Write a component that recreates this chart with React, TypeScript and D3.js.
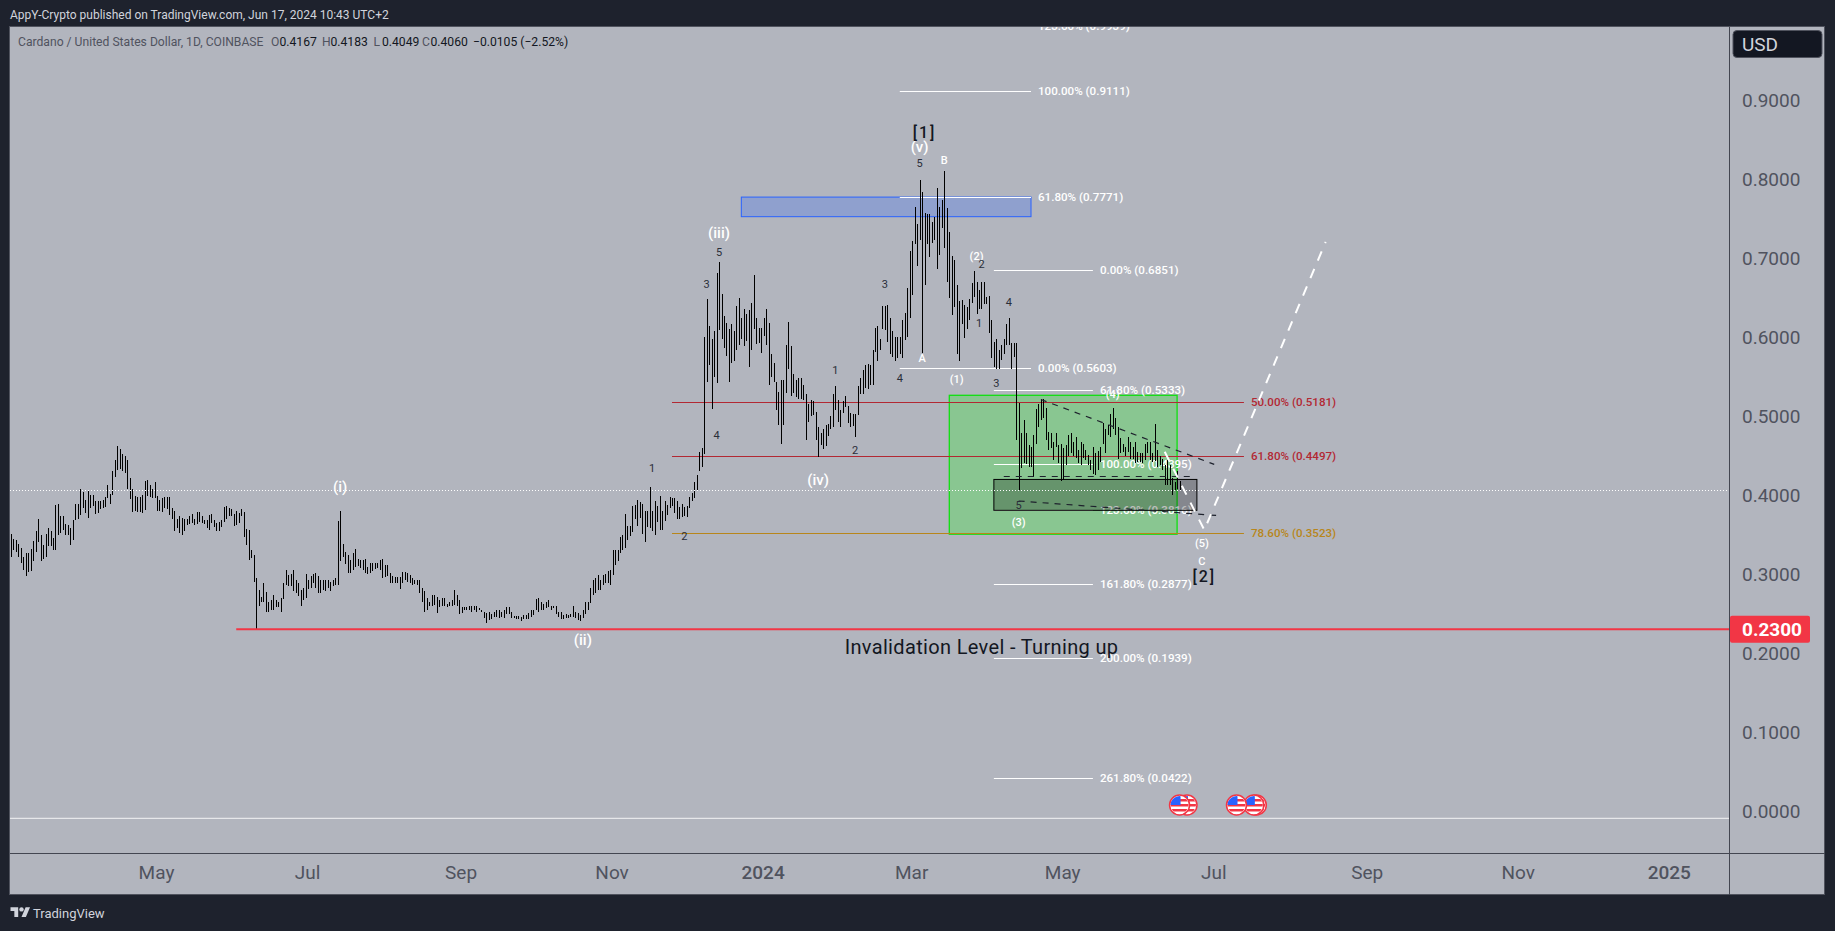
import React, { useEffect, useRef } from "react";
import * as d3 from "d3";

// one bar per day, starting at firstBar, rows of ten
const firstBar = "2023-03-03";

const barHighs = [
  .351,.344,.343,.338,.333,.322,.326,.327,.332,.342,
  .354,.370,.349,.337,.351,.358,.354,.345,.387,.389,
  .373,.373,.363,.362,.358,.368,.389,.389,.408,.404,
  .394,.406,.400,.400,.392,.392,.392,.394,.397,.413,
  .401,.430,.444,.462,.458,.452,.449,.444,.421,.407,
  .399,.397,.397,.400,.418,.419,.413,.408,.416,.399,
  .394,.396,.397,.397,.397,.383,.380,.369,.373,.371,
  .370,.370,.373,.376,.370,.379,.379,.373,.368,.368,
  .375,.376,.368,.365,.366,.368,.385,.386,.384,.382,
  .376,.380,.377,.382,.379,.357,.356,.330,.324,.295,
  .280,.271,.289,.277,.265,.267,.273,.267,.265,.270,
  .288,.305,.299,.300,.305,.293,.288,.280,.282,.300,
  .293,.297,.300,.301,.297,.293,.292,.293,.292,.290,
  .293,.295,.367,.380,.338,.328,.324,.318,.326,.332,
  .319,.318,.318,.319,.309,.314,.314,.314,.314,.318,
  .319,.311,.311,.301,.297,.296,.296,.296,.302,.302,
  .301,.299,.295,.293,.292,.292,.282,.279,.269,.265,
  .273,.273,.271,.267,.270,.270,.262,.265,.267,.280,
  .273,.267,.258,.258,.258,.259,.259,.259,.259,.257,
  .255,.252,.251,.252,.249,.252,.255,.254,.252,.255,
  .258,.258,.252,.247,.247,.247,.246,.248,.248,.251,
  .254,.255,.268,.269,.264,.262,.265,.267,.259,.259,
  .259,.252,.252,.248,.249,.248,.250,.259,.252,.251,
  .248,.254,.264,.265,.282,.293,.295,.299,.292,.299,
  .300,.304,.305,.330,.330,.330,.347,.350,.376,.361,
  .361,.386,.387,.394,.391,.389,.380,.380,.410,.380,
  .392,.386,.399,.380,.392,.387,.397,.396,.396,.392,
  .385,.389,.385,.386,.397,.402,.416,.425,.455,.459,
  .600,.648,.614,.598,.607,.681,.695,.654,.626,.618,
  .610,.616,.607,.639,.650,.624,.635,.629,.634,.643,
  .678,.624,.612,.611,.624,.636,.618,.579,.567,.543,
  .531,.545,.545,.590,.619,.588,.553,.545,.548,.548,
  .539,.528,.515,.520,.519,.505,.486,.479,.483,.489,
  .490,.500,.528,.538,.520,.508,.519,.525,.513,.504,
  .503,.502,.538,.548,.558,.565,.566,.565,.583,.612,
  .614,.598,.639,.639,.640,.624,.607,.600,.600,.600,
  .622,.630,.662,.709,.722,.764,.743,.799,.784,.757,
  .756,.756,.746,.752,.788,.764,.773,.810,.763,.733,
  .702,.698,.666,.645,.647,.640,.638,.648,.668,.684,
  .670,.659,.669,.669,.651,.652,.621,.594,.597,.584,
  .590,.597,.616,.624,.593,.593,.592,.516,.478,.495,
  .478,.463,.461,.476,.509,.515,.522,.522,.510,.480,
  .478,.467,.478,.463,.464,.459,.463,.476,.478,.467,
  .474,.457,.467,.464,.457,.451,.444,.461,.453,.456,
  .461,.491,.484,.489,.503,.510,.497,.486,.472,.464,
  .461,.474,.467,.461,.467,.455,.453,.453,.465,.467,
  .467,.453,.490,.457,.449,.446,.438,.444,.438,.421,
  .417,.430,.4183,
];

const barLows = [
  .322,.330,.328,.321,.314,.305,.298,.303,.304,.316,
  .328,.340,.317,.319,.321,.335,.335,.331,.330,.349,
  .352,.356,.349,.349,.337,.343,.368,.370,.375,.383,
  .377,.371,.384,.386,.376,.377,.382,.383,.385,.396,
  .389,.400,.423,.432,.433,.430,.428,.408,.395,.379,
  .380,.379,.379,.377,.381,.399,.398,.396,.396,.380,
  .380,.379,.383,.382,.375,.370,.354,.358,.352,.349,
  .354,.362,.363,.364,.362,.363,.366,.364,.363,.358,
  .356,.364,.359,.354,.354,.360,.366,.370,.373,.373,
  .361,.362,.364,.373,.347,.337,.318,.320,.290,.230,
  .259,.265,.265,.252,.252,.254,.254,.258,.258,.252,
  .268,.286,.285,.285,.278,.276,.272,.259,.267,.269,
  .281,.282,.288,.282,.276,.276,.280,.279,.282,.279,
  .285,.286,.286,.316,.321,.313,.301,.301,.305,.309,
  .310,.307,.305,.301,.300,.301,.304,.306,.308,.305,
  .295,.296,.297,.289,.289,.288,.288,.281,.289,.292,
  .290,.288,.286,.287,.286,.276,.265,.252,.254,.259,
  .259,.261,.251,.258,.259,.259,.258,.259,.259,.261,
  .259,.250,.251,.254,.254,.254,.252,.254,.252,.254,
  .252,.244,.238,.242,.243,.245,.246,.244,.246,.244,
  .250,.250,.244,.244,.243,.243,.241,.243,.243,.243,
  .246,.248,.254,.252,.255,.254,.257,.258,.254,.257,
  .249,.246,.243,.243,.244,.244,.245,.246,.244,.242,
  .241,.244,.249,.254,.263,.273,.276,.280,.280,.286,
  .288,.288,.286,.299,.311,.316,.326,.330,.333,.343,
  .348,.353,.369,.361,.371,.351,.341,.359,.358,.354,
  .350,.366,.356,.356,.367,.375,.383,.386,.377,.370,
  .370,.372,.373,.372,.383,.393,.396,.406,.431,.436,
  .452,.543,.565,.509,.550,.542,.609,.598,.586,.576,
  .543,.567,.569,.584,.590,.597,.588,.595,.562,.584,
  .610,.591,.592,.580,.601,.590,.539,.550,.543,.507,
  .489,.465,.489,.529,.560,.525,.529,.524,.521,.522,
  .520,.470,.493,.500,.501,.470,.448,.463,.458,.462,
  .475,.483,.486,.508,.493,.486,.504,.512,.491,.486,
  .487,.474,.501,.528,.528,.535,.534,.539,.539,.581,
  .569,.583,.610,.609,.594,.579,.575,.569,.573,.579,
  .573,.596,.600,.624,.653,.718,.690,.723,.580,.666,
  .718,.701,.719,.723,.686,.704,.738,.713,.670,.650,
  .628,.638,.579,.569,.617,.599,.610,.621,.643,.651,
  .629,.635,.636,.642,.642,.605,.573,.562,.560,.560,
  .571,.579,.590,.590,.559,.575,.470,.406,.434,.440,
  .439,.435,.436,.423,.465,.486,.495,.497,.470,.457,
  .459,.444,.461,.440,.418,.419,.438,.449,.453,.449,
  .447,.440,.438,.447,.444,.438,.432,.426,.425,.432,
  .442,.464,.453,.476,.474,.484,.476,.446,.453,.455,
  .449,.455,.446,.446,.440,.442,.442,.440,.444,.453,
  .444,.442,.443,.436,.438,.432,.413,.413,.413,.400,
  .406,.408,.4049,
];

const priceTicks = [0, .1, .2, .3, .4, .5, .6, .7, .8, .9];
const timeTicks = ["2023-05-01", "2023-07-01", "2023-09-01", "2023-11-01", "2024-01-01", "2024-03-01", "2024-05-01", "2024-07-01", "2024-09-01", "2024-11-01", "2025-01-01"];
const timeLabels = ["May", "Jul", "Sep", "Nov", "2024", "Mar", "May", "Jul", "Sep", "Nov", "2025"];

const lastPrice = 0.406;
const invalidation = 0.23;
const invalidationStart = "2023-06-02";
const zeroLine = -0.0093;

// fib tools
const upperPct = ["123.60%", "100.00%", "61.80%", "0.00%"];
const upperPrice = [.9939, .9111, .7771, .5603];
const upperSpan = ["2024-02-25", "2024-04-18"];
const lowerPct = ["0.00%", "61.80%", "100.00%", "123.60%", "161.80%", "200.00%", "261.80%"];
const lowerPrice = [.6851, .5333, .4395, .3816, .2877, .1939, .0422];
const lowerSpan = ["2024-04-03", "2024-05-13"];
const retracePct = ["50.00%", "61.80%", "78.60%"];
const retracePrice = [.5181, .4497, .3523];
const retraceColor = ["#b22833", "#b22833", "#b8861b"];
const retraceSpan = ["2023-11-25", "2024-07-13"];

// rectangles: date from, date to, price top, price bottom
const blueBox = ["2023-12-23", "2024-04-18", .7771, .7523];
const greenBox = ["2024-03-16", "2024-06-16", .5262, .3504];
const greyBox = ["2024-04-03", "2024-06-24", .4197, .3806];

const dashedBlack = [
  [["2024-04-22", .5209], ["2024-07-01", .4388]],
  [["2024-04-13", .3924], ["2024-07-03", .3738]],
  [["2024-04-07", .4234], ["2024-06-23", .4234]],
];
const projection = [["2024-06-11", .4547], ["2024-06-27", .3557], ["2024-08-15", .7203]];

// wave labels: date, price, text
const whiteLabels = [
  ["2023-07-14", .410, "(i)"], ["2023-10-20", .2165, "(ii)"], ["2023-12-14", .7316, "(iii)"],
  ["2024-01-23", .419, "(iv)"], ["2024-03-04", .840, "(v)"],
];
const whiteSmall = [
  ["2024-03-14", .8228, "B"], ["2024-03-05", .573, "A"], ["2024-03-27", .7016, "(2)"],
  ["2024-03-19", .5465, "(1)"], ["2024-05-21", .5278, "(4)"], ["2024-04-13", .3646, "(3)"],
  ["2024-06-26", .3389, "(5)"], ["2024-06-26", .3152, "C"],
];
const darkSmall = [
  ["2024-03-04", .8196, "5"], ["2024-02-19", .667, "3"], ["2024-03-29", .6924, "2"],
  ["2024-04-09", .6443, "4"], ["2024-03-28", .6173, "1"], ["2024-02-25", .5477, "4"],
  ["2024-04-04", .5414, "3"], ["2024-01-30", .557, "1"], ["2023-12-14", .7067, "5"],
  ["2023-12-09", .667, "3"], ["2023-12-13", .4756, "4"], ["2024-02-07", .4557, "2"],
  ["2023-11-17", .4338, "1"], ["2023-11-30", .3481, "2"], ["2024-04-13", .3865, "5"],
];
const degreeLabels = [["2024-03-06", .859, "[1]"], ["2024-06-27", .2966, "[2]"]];
const noteLabel = ["2024-03-29", .2076, "Invalidation Level - Turning up"];

const eventDates = ["2024-07-18", "2024-07-17", "2024-07-10", "2024-06-20", "2024-06-17"];
const eventPrice = 0.0076;

const legendName = "Cardano / United States Dollar, 1D, COINBASE";
const legendKeys = ["O", "H", "L", "C"];
const legendValues = ["0.4167", "0.4183", "0.4049", "0.4060"];
const legendChange = "−0.0105 (−2.52%)";
const publishLine = "AppY-Crypto published on TradingView.com, Jun 17, 2024 10:43 UTC+2";

const W = 1835, H = 931;
const plot = { left: 10, right: 1729, top: 27, bottom: 853, edge: 1825, foot: 895 };
const font = "Roboto, sans-serif";
const day = d3.utcParse("%Y-%m-%d");
const fmt4 = d3.format(".4f");

export default function App() {
  const ref = useRef<SVGSVGElement>(null);

  useEffect(() => {
    const svg = d3.select(ref.current);
    svg.selectAll("*").remove();
    svg.attr("font-family", font);

    const x = d3.scaleUtc().domain([day("2023-05-01"), day("2025-01-01")]).range([157, 1669.8]);
    const y = d3.scaleLinear().domain([0, 0.9]).range([811, 100]);

    const defs = svg.append("defs");
    defs.append("clipPath").attr("id", "plotClip").append("rect")
      .attr("x", plot.left).attr("y", plot.top)
      .attr("width", plot.right - plot.left).attr("height", plot.bottom - plot.top);
    defs.append("clipPath").attr("id", "flagClip").append("circle").attr("r", 9);

    // page and panes
    svg.append("rect").attr("width", W).attr("height", H).attr("fill", "#1e222d");
    svg.append("rect").attr("x", plot.left - .5).attr("y", plot.top - .5)
      .attr("width", plot.edge - plot.left).attr("height", plot.foot - plot.top)
      .attr("fill", "#b2b5be").attr("stroke", "#50535e");
    svg.append("line").attr("x1", plot.right + .5).attr("x2", plot.right + .5).attr("y1", plot.top).attr("y2", plot.foot).attr("stroke", "#434651");
    svg.append("line").attr("x1", plot.left).attr("x2", plot.edge).attr("y1", plot.bottom + .5).attr("y2", plot.bottom + .5).attr("stroke", "#434651");

    svg.append("text").attr("x", 10).attr("y", 15).attr("dominant-baseline", "central")
      .attr("font-size", 12).attr("fill", "#d1d4dc").text(publishLine);

    // axes
    const yAxis = svg.append("g").attr("transform", `translate(${plot.right},0)`)
      .call(d3.axisRight(y).tickValues(priceTicks).tickFormat(fmt4).tickSize(0).tickPadding(13));
    const xAxis = svg.append("g").attr("transform", `translate(0,${plot.bottom})`)
      .call(d3.axisBottom(x).tickValues(timeTicks.map(day))
        .tickFormat((d, i) => timeLabels[i]).tickSize(0));
    yAxis.select(".domain").remove();
    xAxis.select(".domain").remove();
    yAxis.selectAll("text").attr("font-size", 19).attr("font-family", font).attr("fill", "#50535e").attr("dy", null).attr("dominant-baseline", "central");
    xAxis.selectAll("text").attr("font-size", 19).attr("font-family", font).attr("fill", "#50535e").attr("dy", null).attr("x", -1).attr("y", 19).attr("dominant-baseline", "central")
      .attr("font-weight", (d, i) => (timeLabels[i].length === 4 ? 500 : 400));

    const chart = svg.append("g").attr("clip-path", "url(#plotClip)");

    const box = (b: any[], fill: string, stroke: string, sw: number) =>
      chart.append("rect")
        .attr("x", x(day(b[0]))).attr("width", x(day(b[1])) - x(day(b[0])))
        .attr("y", y(b[2])).attr("height", y(b[3]) - y(b[2]))
        .attr("fill", fill).attr("stroke", stroke).attr("stroke-width", sw);

    box(blueBox, "rgba(41,98,255,0.25)", "#2962ff", 1);
    box(greenBox, "rgba(76,226,77,0.4)", "#10e010", 1.3);

    // fib levels
    const fibs = (pct: string[], price: number[], span: string[], color: (i: number) => string) => {
      price.forEach((p, i) => {
        chart.append("line")
          .attr("x1", x(day(span[0]))).attr("x2", x(day(span[1])))
          .attr("y1", Math.round(y(p)) + .5).attr("y2", Math.round(y(p)) + .5)
          .attr("stroke", color(i)).attr("stroke-width", 1.2);
        chart.append("text")
          .attr("x", x(day(span[1])) + 7).attr("y", y(p))
          .attr("dominant-baseline", "central").attr("font-size", 11.6).attr("font-weight", 500)
          .attr("fill", color(i)).text(`${pct[i]} (${fmt4(p)})`);
      });
    };
    fibs(upperPct, upperPrice, upperSpan, () => "#ffffff");
    fibs(lowerPct, lowerPrice, lowerSpan, () => "#ffffff");
    fibs(retracePct, retracePrice, retraceSpan, (i) => retraceColor[i]);

    // daily high-low bars
    const start = day(firstBar);
    chart.append("g").attr("stroke", "#000").attr("stroke-width", 1).attr("shape-rendering", "crispEdges")
      .selectAll("line").data(barHighs).join("line")
      .attr("x1", (d, i) => Math.round(x(d3.utcDay.offset(start, i))) + .5)
      .attr("x2", (d, i) => Math.round(x(d3.utcDay.offset(start, i))) + .5)
      .attr("y1", (d) => y(d))
      .attr("y2", (d, i) => y(barLows[i]));

    box(greyBox, "rgba(0,0,0,0.25)", "#000", 1);

    const pts = d3.line<any>().x((d) => x(day(d[0]))).y((d) => y(d[1]));
    dashedBlack.forEach((l) => {
      chart.append("path").attr("d", pts(l)).attr("fill", "none")
        .attr("stroke", "#1e222d").attr("stroke-width", 1.2).attr("stroke-dasharray", "6 6");
    });
    chart.append("path").attr("d", pts(projection)).attr("fill", "none")
      .attr("stroke", "#fff").attr("stroke-width", 2).attr("stroke-dasharray", "10 9");

    // last price, zero and invalidation lines
    chart.append("line").attr("x1", plot.left).attr("x2", plot.right)
      .attr("y1", Math.round(y(lastPrice)) + .5).attr("y2", Math.round(y(lastPrice)) + .5)
      .attr("stroke", "#fff").attr("stroke-dasharray", "1 2");
    chart.append("line").attr("x1", plot.left).attr("x2", plot.right)
      .attr("y1", y(zeroLine)).attr("y2", y(zeroLine))
      .attr("stroke", "#e6e7ea").attr("stroke-width", 1.2);
    chart.append("line").attr("x1", x(day(invalidationStart))).attr("x2", plot.right)
      .attr("y1", y(invalidation)).attr("y2", y(invalidation))
      .attr("stroke", "#f23645").attr("stroke-width", 2);

    // wave labels
    const labels = (rows: any[], size: number, fill: string, weight = 400, spacing = 0) =>
      chart.append("g").selectAll("text").data(rows).join("text")
        .attr("x", (d) => x(day(d[0]))).attr("y", (d) => y(d[1]))
        .attr("text-anchor", "middle").attr("dominant-baseline", "central")
        .attr("font-size", size).attr("font-weight", weight).attr("fill", fill)
        .attr("letter-spacing", spacing)
        .text((d) => d[2]);
    labels(whiteLabels, 15, "#ffffff", 500);
    labels(whiteSmall, 11, "#ffffff", 500);
    labels(darkSmall, 11, "#2a2e39");
    labels(degreeLabels, 16, "#131722", 500, 2);
    labels([noteLabel], 20, "#131722", 400, 0.34);

    // economic events
    const flag = chart.append("g").selectAll("g").data(eventDates).join("g")
      .attr("transform", (d) => `translate(${x(day(d))},${y(eventPrice)})`);
    flag.append("circle").attr("r", 10).attr("fill", "#fff").attr("stroke", "#f23645").attr("stroke-width", 1.5);
    const cloth = flag.append("g").attr("clip-path", "url(#flagClip)");
    d3.range(-6, 9, 5).forEach((s) => {
      cloth.append("rect").attr("x", -10).attr("y", s).attr("width", 20).attr("height", 2.5).attr("fill", "#f23645");
    });
    cloth.append("rect").attr("x", -10).attr("y", -10).attr("width", 11).attr("height", 10).attr("fill", "#2962ff");

    // axis badges
    svg.append("rect").attr("x", plot.right + 1).attr("y", y(invalidation) - 13.5)
      .attr("width", 80).attr("height", 27).attr("rx", 2).attr("fill", "#f23645");
    svg.append("text").attr("x", plot.right + 13).attr("y", y(invalidation))
      .attr("dominant-baseline", "central").attr("font-size", 19).attr("font-weight", 700)
      .attr("fill", "#fff").text(fmt4(invalidation));
    svg.append("rect").attr("x", 1733).attr("y", 30.5).attr("width", 89).attr("height", 27).attr("rx", 4)
      .attr("fill", "#131722").attr("stroke", "#50535e");
    svg.append("text").attr("x", 1742).attr("y", 44).attr("dominant-baseline", "central")
      .attr("font-size", 19).attr("fill", "#d1d4dc").text("USD");

    // legend
    const legend = svg.append("g").attr("font-size", 12.15);
    const put = (lx: number, txt: string, fill: string) =>
      legend.append("text").attr("x", lx).attr("y", 41.5).attr("dominant-baseline", "central").attr("fill", fill).text(txt);
    put(18, legendName, "#50535e");
    [271, 322, 373.5, 422].forEach((lx, i) => {
      put(lx, legendKeys[i], "#50535e");
      put(lx + 8.5, legendValues[i], "#131722");
    });
    put(473, legendChange, "#131722");

    // footer logo
    const logo = svg.append("g").attr("transform", "translate(10.5,905) scale(0.55)").attr("fill", "#d1d4dc");
    logo.append("path").attr("d", "M14 22H7V11H0V4h14v18zM28 22h-8l7.5-18h8L28 22z");
    logo.append("circle").attr("cx", 20).attr("cy", 8).attr("r", 4);
    svg.append("text").attr("x", 33).attr("y", 913).attr("dominant-baseline", "central")
      .attr("font-size", 13).attr("fill", "#d1d4dc").text("TradingView");
  }, []);

  return <svg ref={ref} width={W} height={H} style={{ position: "absolute", left: 0, top: 0 }} />;
}
